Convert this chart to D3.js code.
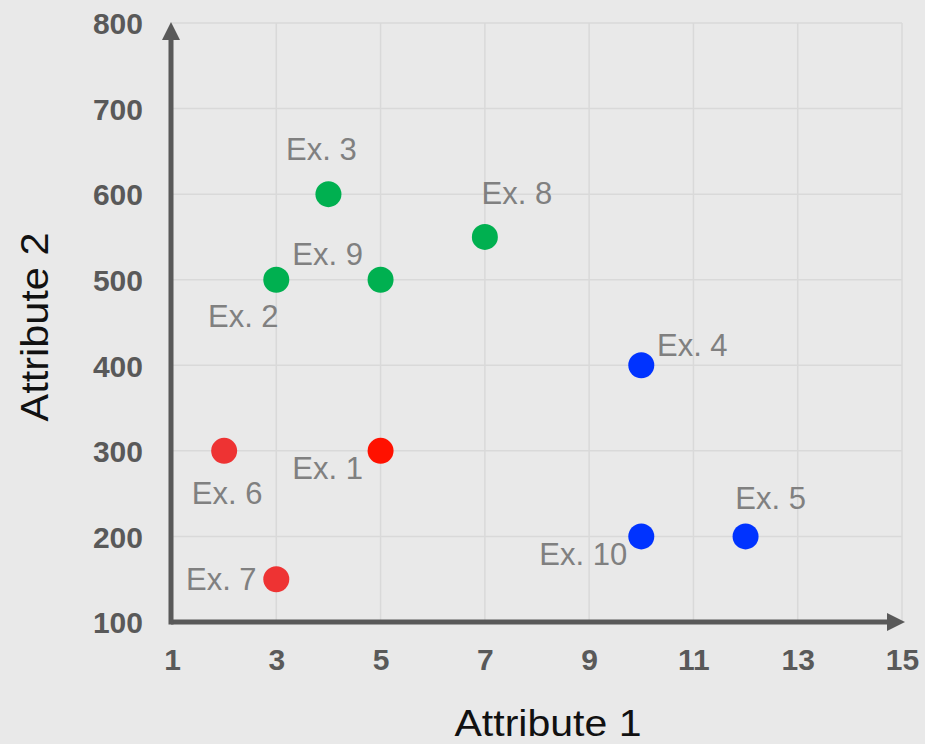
<!DOCTYPE html>
<html>
<head>
<meta charset="utf-8">
<script src="https://cdn.jsdelivr.net/npm/d3@7"></script>
<style>
  html, body { margin: 0; padding: 0; background: #e9e9e9; }
  svg { display: block; }
  text { font-family: "Liberation Sans", Arial, sans-serif; }
</style>
</head>
<body>
<svg id="chart" width="925" height="744"></svg>
<script>
// ---- data ----
const names = ["Ex. 1", "Ex. 2", "Ex. 3", "Ex. 4", "Ex. 5", "Ex. 6", "Ex. 7", "Ex. 8", "Ex. 9", "Ex. 10"];
const attribute1 = [5, 3, 4, 10, 12, 2, 3, 7, 5, 10];
const attribute2 = [300, 500, 600, 400, 200, 300, 150, 550, 500, 200];
const groups = ["red", "green", "green", "blue", "blue", "red", "red", "green", "green", "blue"];
const xTicks = [1, 3, 5, 7, 9, 11, 13, 15];
const yTicks = [100, 200, 300, 400, 500, 600, 700, 800];
const xTitle = "Attribute 1";
const yTitle = "Attribute 2";

// ---- styles / layout (not data) ----
const groupColors = { red: "#ee3333", green: "#00b050", blue: "#0033ff" };
const highlightColor = { "Ex. 1": "#ff1100" };
// label offsets in pixels relative to point centre (text centre x, baseline y)
const labelOffsets = [[-53, 28], [-33, 47], [-7, -34], [51, -9], [25, -27],
                      [3, 53], [-55, 11], [32, -33], [-53, -15], [-58, 29]];

const svg = d3.select("#chart");
const x = d3.scaleLinear().domain([1, 15]).range([172, 902]);
const y = d3.scaleLinear().domain([100, 800]).range([622, 23]);

const axisColor = "#595959";
const gridColor = "#d9d9d9";

// grid
const grid = svg.append("g");
grid.selectAll("line.v").data(xTicks.slice(1)).join("line")
  .attr("x1", d => x(d)).attr("x2", d => x(d))
  .attr("y1", y(800)).attr("y2", y(100))
  .attr("stroke", gridColor).attr("stroke-width", 1.5);
grid.selectAll("line.h").data(yTicks.slice(1)).join("line")
  .attr("x1", x(1)).attr("x2", x(15))
  .attr("y1", d => y(d)).attr("y2", d => y(d))
  .attr("stroke", gridColor).attr("stroke-width", 1.5);

// tick labels via d3 axis generators
const xAxis = d3.axisBottom(x).tickValues(xTicks).tickSize(0).tickPadding(0).tickFormat(d3.format("d"));
const yAxis = d3.axisLeft(y).tickValues(yTicks).tickSize(0).tickPadding(0).tickFormat(d3.format("d"));

const gx = svg.append("g").attr("transform", `translate(0,${y(100)})`).call(xAxis);
gx.select(".domain").remove();
gx.selectAll("text")
  .attr("y", 48).attr("dy", null)
  .attr("fill", axisColor).attr("font-size", 30).attr("font-weight", "bold")
  .attr("font-family", '"Liberation Sans", Arial, sans-serif');

const gy = svg.append("g").attr("transform", `translate(${x(1)},0)`).call(yAxis);
gy.select(".domain").remove();
gy.selectAll("text")
  .attr("x", -29).attr("dy", "0.36em")
  .attr("fill", axisColor).attr("font-size", 30).attr("font-weight", "bold")
  .attr("font-family", '"Liberation Sans", Arial, sans-serif');

// axis lines with arrows
const defs = svg.append("defs");
defs.append("marker").attr("id", "arrow")
  .attr("viewBox", "0 0 18 18").attr("refX", 0).attr("refY", 9)
  .attr("markerWidth", 18).attr("markerHeight", 18)
  .attr("markerUnits", "userSpaceOnUse").attr("orient", "auto")
  .append("path").attr("d", "M0,0 L18,9 L0,18 Z").attr("fill", axisColor);

svg.append("line")
  .attr("x1", x(1) - 1).attr("x2", 887)
  .attr("y1", y(100)).attr("y2", y(100))
  .attr("stroke", axisColor).attr("stroke-width", 5)
  .attr("marker-end", "url(#arrow)");
svg.append("line")
  .attr("x1", x(1) - 1).attr("x2", x(1) - 1)
  .attr("y1", y(100) + 2.5).attr("y2", 40)
  .attr("stroke", axisColor).attr("stroke-width", 5)
  .attr("marker-end", "url(#arrow)");

// points
const idx = d3.range(names.length);
const colorOf = i => highlightColor[names[i]] || groupColors[groups[i]];
svg.append("g").selectAll("circle").data(idx).join("circle")
  .attr("cx", i => x(attribute1[i]))
  .attr("cy", i => y(attribute2[i]))
  .attr("r", 13)
  .attr("fill", colorOf);

// labels
svg.append("g").selectAll("text").data(idx).join("text")
  .attr("x", i => x(attribute1[i]) + labelOffsets[i][0])
  .attr("y", i => y(attribute2[i]) + labelOffsets[i][1])
  .attr("text-anchor", "middle")
  .attr("font-size", 31)
  .attr("fill", "#808080")
  .text(i => names[i]);

// axis titles
svg.append("text")
  .attr("x", 548).attr("y", 736)
  .attr("text-anchor", "middle")
  .attr("font-size", 36)
  .attr("textLength", 187).attr("lengthAdjust", "spacingAndGlyphs")
  .attr("fill", "#111")
  .text(xTitle);
svg.append("text")
  .attr("transform", "translate(48,327) rotate(-90)")
  .attr("text-anchor", "middle")
  .attr("font-size", 38)
  .attr("textLength", 189).attr("lengthAdjust", "spacingAndGlyphs")
  .attr("fill", "#111")
  .text(yTitle);
</script>
</body>
</html>
